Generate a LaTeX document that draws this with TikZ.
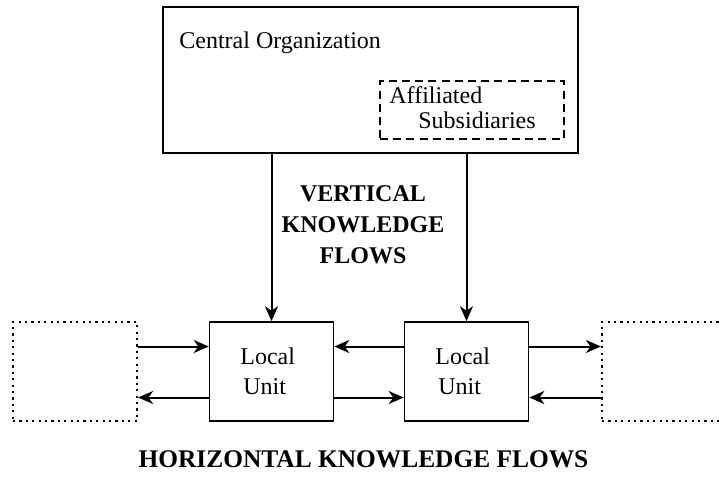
\documentclass[tikz,border=0pt]{standalone}
\usepackage{fontspec}
\setmainfont{Liberation Serif}
\usetikzlibrary{arrows.meta}
\begin{document}
\begin{tikzpicture}[x=0.5pt,y=-0.5pt,
  box/.style={draw,line width=0.8pt,minimum width=62pt,minimum height=49.5pt,inner sep=0pt},
  extbox/.style={draw,line width=1.1pt,dash pattern=on 1.1pt off 2.1pt,minimum width=62pt,minimum height=49.5pt,inner sep=0pt},
  orgbox/.style={draw,line width=0.8pt,minimum width=207.5pt,minimum height=73pt,inner sep=0pt},
  subbox/.style={draw,line width=0.9pt,dash pattern=on 4pt off 2.6pt,minimum width=92pt,minimum height=29pt,inner sep=0pt},
  txt/.style={font=\fontsize{12}{15}\selectfont,inner sep=0pt},
  unittxt/.style={txt,align=left,anchor=north west},
  bold/.style={font=\fontsize{12}{15.5}\selectfont\bfseries,inner sep=0pt,align=center},
  flow/.style={line width=1pt,-{Stealth[length=7.5pt,width=6.5pt,inset=2.3pt]}}
]
\clip (0,0) rectangle (719,477);

% central organization with its affiliated subsidiaries
\node[orgbox] (org) at (370.5,80) {};
\node[txt,anchor=base west] (orgname) at (179,48) {Central Organization};
\node[subbox] (sub) at (472,110) {};
\node[txt,anchor=base west] (subA) at (389,103) {Affiliated};
\node[txt,anchor=base west] (subB) at (418,128) {Subsidiaries};

% local units and the outside units
\node[box] (lu1) at (271.5,371.5) {};
\node[box] (lu2) at (466.5,371.5) {};
\node[unittxt] (lu1txt) at (240,347) {Local\\\hspace*{1.5pt}Unit};
\node[unittxt] (lu2txt) at (435,347) {Local\\\hspace*{1.5pt}Unit};
\node[extbox] (extL) at (75,371.5) {};
\node[extbox] (extR) at (664,371.5) {};

% vertical flows
\draw[flow] (lu1.north |- org.south) -- (lu1.north);
\draw[flow] (lu2.north |- org.south) -- (lu2.north);
\node[bold] (vlabel) at (363,225) {VERTICAL\\KNOWLEDGE\\FLOWS};

% horizontal flows
\draw[flow] ([yshift=12.5pt]extL.east) -- ([yshift=12.5pt]lu1.west);
\draw[flow] ([yshift=-13pt]lu1.west) -- ([yshift=-13pt]extL.east);
\draw[flow] ([yshift=12.5pt]lu2.west) -- ([yshift=12.5pt]lu1.east);
\draw[flow] ([yshift=-13pt]lu1.east) -- ([yshift=-13pt]lu2.west);
\draw[flow] ([yshift=12.5pt]lu2.east) -- ([yshift=12.5pt]extR.west);
\draw[flow] ([yshift=-13pt]extR.west) -- ([yshift=-13pt]lu2.east);
\node[bold,font=\fontsize{12.7}{15.5}\selectfont\bfseries,anchor=base] (hlabel) at (363.5,467) {HORIZONTAL KNOWLEDGE FLOWS};
\end{tikzpicture}
\end{document}
